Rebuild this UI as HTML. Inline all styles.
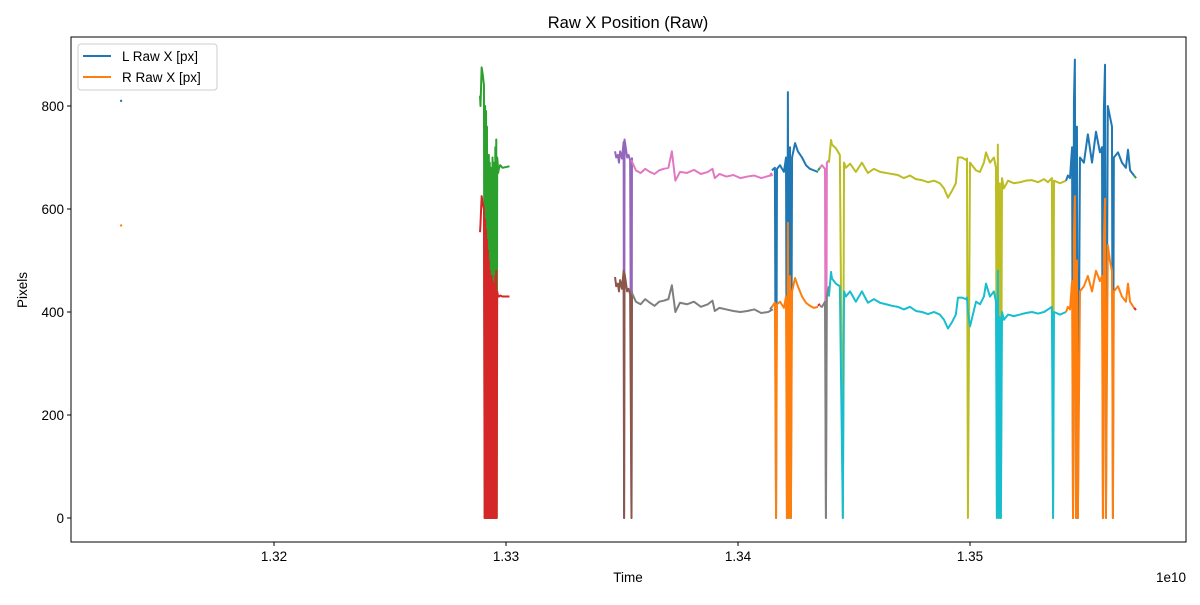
<!DOCTYPE html>
<html><head><meta charset="utf-8"><style>
body{margin:0;background:#fff;font-family:"Liberation Sans","DejaVu Sans",sans-serif}
svg text{font-family:"Liberation Sans","DejaVu Sans",sans-serif;fill:#000}
</style></head><body>
<svg id="chart" width="1200" height="600" xmlns="http://www.w3.org/2000/svg">
<rect width="1200" height="600" fill="#fff"/>
<text x="628" y="28" font-size="16.5" text-anchor="middle">Raw X Position (Raw)</text>
<g id="plot"></g>
<g id="axes"></g>
<text x="628" y="582" font-size="13.5" text-anchor="middle">Time</text>
<text x="1186" y="582" font-size="13.5" text-anchor="end">1e10</text>
<text x="27" y="290" font-size="13.5" text-anchor="middle" transform="rotate(-90 27 290)">Pixels</text>
<g>
<rect x="78" y="44" width="139" height="46" rx="3" fill="#fff" fill-opacity="0.8" stroke="#ccc"/>
<g><line x1="83" y1="56" x2="111" y2="56" stroke="#1f77b4" stroke-width="2"/><text x="122" y="61" font-size="13.5">L Raw X [px]</text></g>
<g><line x1="83" y1="77" x2="111" y2="77" stroke="#ff7f0e" stroke-width="2"/><text x="122" y="82" font-size="13.5">R Raw X [px]</text></g>
</g>
</svg>
<script>
const xTicks=[1.32,1.33,1.34,1.35];
const xTickLabels=["1.32","1.33","1.34","1.35"];
const yTicks=[0,200,400,600,800];
const yTickLabels=["0","200","400","600","800"];
const segColors=["#1f77b4","#ff7f0e","#2ca02c","#d62728","#9467bd","#8c564b","#e377c2","#7f7f7f","#e377c2","#7f7f7f","#1f77b4","#ff7f0e","#2ca02c","#d62728","#e377c2","#7f7f7f","#bcbd22","#17becf","#1f77b4","#ff7f0e","#2ca02c","#d62728"];
const segNames=["l-seg-1","r-seg-1","l-seg-2","r-seg-2","l-seg-3","r-seg-3","l-seg-4","r-seg-4","l-seg-4b","r-seg-4b","l-seg-5","r-seg-5","l-seg-6","r-seg-6","l-seg-7","r-seg-7","l-seg-8","r-seg-8","l-seg-9","r-seg-9","l-seg-10","r-seg-10"];
const t1=[1.31340,1.31342];
const v1L=[812,808];
const v1R=[570,566];
const t2=[1.32888,1.32890,1.32895,1.32900,1.32905,1.32908,1.32910,1.32912,1.32914,1.32916,1.32918,1.32920,1.32922,1.32924,1.32926,1.32928,1.32930,1.32932,1.32934,1.32936,1.32938,1.32940,1.32942,1.32944,1.32946,1.32948,1.32950,1.32952,1.32954,1.32956,1.32958,1.32960,1.32962,1.32964,1.32966,1.32970,1.32975,1.32985,1.33015];
const v2L=[820,800,875,860,840,0,800,0,790,0,760,0,700,0,705,0,690,0,680,0,660,0,700,0,690,0,640,0,720,0,735,0,700,690,670,680,685,680,683];
const v2R=[555,570,625,610,600,0,580,0,560,0,540,0,520,0,500,0,480,0,470,0,470,0,460,0,455,0,445,0,470,0,480,0,440,435,430,430,432,430,430];
const t3=[1.3347,1.33475,1.33482,1.33487,1.33492,1.335,1.33507,1.33509,1.33511,1.33516,1.33522,1.33528,1.33535,1.33541,1.33543];
const v3L=[712,700,705,690,712,698,730,0,735,720,700,705,695,0,700];
const v3R=[468,450,455,440,462,445,480,0,475,460,440,445,435,0,440];
const t4=[1.3354,1.3356,1.3358,1.3360,1.3362,1.3364,1.3366,1.3368,1.3370,1.33715,1.3373,1.3375,1.3378,1.3381,1.3384,1.3387,1.3389,1.3390,1.3392,1.3395,1.3398,1.3401,1.3404,1.3407,1.3410,1.3413,1.3415];
const v4L=[695,675,670,678,672,668,675,678,680,712,655,672,670,676,668,672,678,660,668,663,666,660,663,665,660,664,666];
const v4R=[440,420,415,425,418,412,420,422,425,452,400,418,415,420,410,415,422,402,408,405,402,400,402,405,398,400,405];
const t4b=[1.34138,1.34146];
const v4bL=[666,670];
const v4bR=[405,410];
const t5=[1.34146,1.34159,1.34164,1.34168,1.34181,1.34198,1.34207,1.34211,1.34215,1.34220,1.34224,1.34228,1.34233,1.34246,1.34258,1.34276,1.34293,1.34310,1.34327,1.34345];
const v5L=[675,680,0,678,685,672,700,0,827,0,720,0,700,728,712,700,685,678,675,672];
const v5R=[410,418,0,415,420,408,430,0,573,0,470,0,440,466,450,430,418,412,408,410];
const t6=[1.34345,1.34353];
const v6L=[675,680];
const v6R=[412,416];
const t7=[1.34353,1.34362,1.34375,1.34379,1.34383,1.34392];
const v7L=[680,685,678,0,690,695];
const v7R=[412,410,420,0,430,450];
const t8=[1.34392,1.34401,1.34405,1.34422,1.34439,1.34452,1.34457,1.34465,1.34483,1.34508,1.34534,1.34560,1.34586,1.34612,1.34638,1.34664,1.34689,1.34715,1.34741,1.34767,1.34793,1.34819,1.34845,1.34870,1.34888,1.34905,1.34922,1.34939,1.34948,1.34965,1.34983,1.34987,1.34991,1.35000,1.35026,1.35043,1.35060,1.35069,1.35086,1.35103,1.35112,1.35116,1.35120,1.35125,1.35129,1.35133,1.35138,1.35146,1.35164,1.35189,1.35215,1.35241,1.35267,1.35293,1.35319,1.35336,1.35353,1.35358,1.35362,1.35388,1.35414];
const v8L=[690,734,725,718,705,0,690,680,688,672,690,670,678,672,670,668,666,660,665,658,656,652,655,650,640,622,635,650,700,700,695,698,0,690,675,672,690,710,690,700,680,0,725,0,650,0,660,640,655,650,652,655,656,652,658,652,660,0,655,650,655];
const v8R=[430,478,465,455,450,0,440,430,440,420,440,418,425,418,415,412,410,405,410,402,400,396,400,395,385,368,380,395,428,428,425,428,400,372,420,415,430,455,430,440,420,0,480,0,390,0,400,385,395,392,395,398,400,397,400,405,410,0,400,395,400];
const t9=[1.35414,1.35422,1.35431,1.35440,1.35444,1.35448,1.35452,1.35457,1.35461,1.35465,1.35474,1.35491,1.35508,1.35526,1.35543,1.35560,1.35569,1.35573,1.35577,1.35582,1.35586,1.35594,1.35603,1.35612,1.35616,1.35620,1.35638,1.35655,1.35672,1.35681,1.35690,1.35707];
const v9L=[655,665,660,720,0,810,890,0,760,0,700,690,745,690,750,710,720,0,790,880,0,800,780,760,0,700,710,690,680,715,675,665];
const v9R=[400,410,405,460,0,550,625,0,500,0,440,450,470,440,480,460,470,0,540,620,0,530,500,480,0,440,450,430,420,455,420,408];
const t10=[1.35707,1.35716];
const v10L=[665,660];
const v10R=[408,404];
const segT=[t1,t1,t2,t2,t3,t3,t4,t4,t4b,t4b,t5,t5,t6,t6,t7,t7,t8,t8,t9,t9,t10,t10];
const segV=[v1L,v1R,v2L,v2R,v3L,v3R,v4L,v4R,v4bL,v4bR,v5L,v5R,v6L,v6R,v7L,v7R,v8L,v8R,v9L,v9R,v10L,v10R];
const L=71,R=1186,T=37,B=542;
function xs(t){return 274+(t-1.32)*23200;}
function ys(v){return 518-v*0.515;}
const NS="http://www.w3.org/2000/svg";
const plot=document.getElementById('plot');
const axes=document.getElementById('axes');
const order=[0,1,2,3,4,5,6,7,10,11,12,13,14,15,16,17,8,9,18,19,20,21];
order.forEach(i=>{
  const p=document.createElementNS(NS,'polyline');
  
  
  p.setAttribute('points',segT[i].map((t,j)=>xs(t).toFixed(2)+','+ys(segV[i][j]).toFixed(2)).join(' '));
  p.setAttribute('fill','none');
  p.setAttribute('stroke',segColors[i]);
  p.setAttribute('stroke-width','2');
  p.setAttribute('stroke-linejoin','round');
  plot.appendChild(p);
});
const frame=document.createElementNS(NS,'rect');


frame.setAttribute('x',L);frame.setAttribute('y',T);frame.setAttribute('width',R-L);frame.setAttribute('height',B-T);
frame.setAttribute('fill','none');frame.setAttribute('stroke','#000');frame.setAttribute('stroke-width','1');
axes.appendChild(frame);
xTicks.forEach((t,i)=>{
  const x=xs(t);
  const ln=document.createElementNS(NS,'line');
  
  
  ln.setAttribute('x1',x);ln.setAttribute('x2',x);ln.setAttribute('y1',B);ln.setAttribute('y2',B+4);ln.setAttribute('stroke','#000');
  axes.appendChild(ln);
  const tx=document.createElementNS(NS,'text');
  
  
  tx.setAttribute('x',x);tx.setAttribute('y',B+19);tx.setAttribute('font-size','13.5');tx.setAttribute('text-anchor','middle');
  tx.textContent=xTickLabels[i];
  axes.appendChild(tx);
});
yTicks.forEach((v,i)=>{
  const y=ys(v);
  const ln=document.createElementNS(NS,'line');
  
  
  ln.setAttribute('x1',L-4);ln.setAttribute('x2',L);ln.setAttribute('y1',y);ln.setAttribute('y2',y);ln.setAttribute('stroke','#000');
  axes.appendChild(ln);
  const tx=document.createElementNS(NS,'text');
  
  
  tx.setAttribute('x',L-7);tx.setAttribute('y',y+5);tx.setAttribute('font-size','13.5');tx.setAttribute('text-anchor','end');
  tx.textContent=yTickLabels[i];
  axes.appendChild(tx);
});
</script>
</body></html>
